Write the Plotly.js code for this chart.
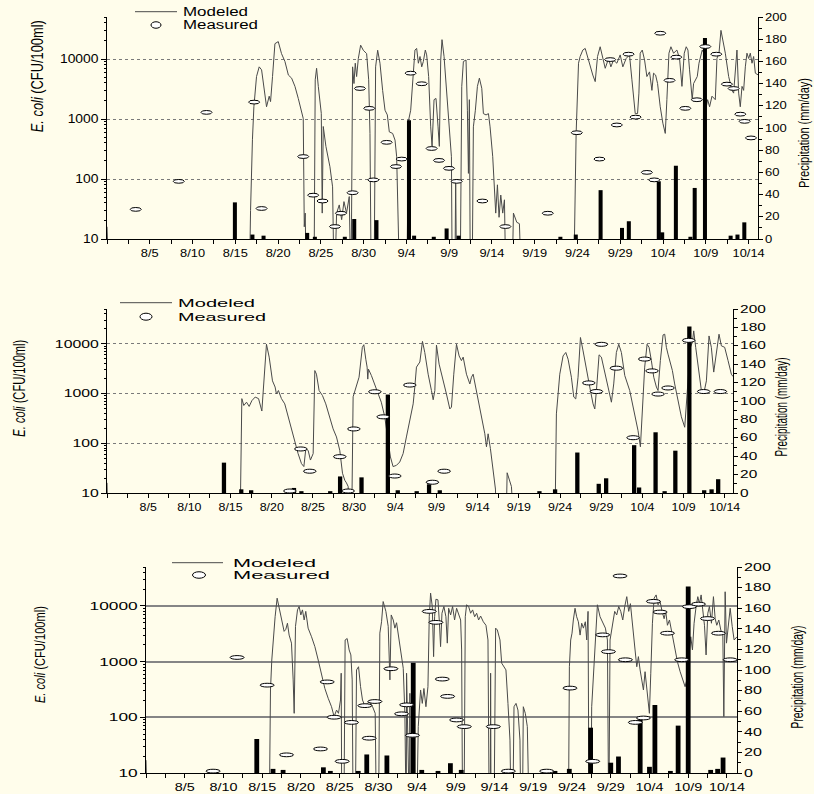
<!DOCTYPE html>
<html>
<head>
<meta charset="utf-8">
<script src="https://cdn.plot.ly/plotly-3.0.1.min.js"></script>
<style>
html,body{margin:0;padding:0;background:#fffdeb;}
#chart{width:814px;height:794px;}
</style>
</head>
<body>
<div id="chart"></div>
<script>
// ---------- DATA (x = day counted from Jul 31 = 0) ----------
const tickDays = [5,10,15,20,25,30,35,40,45,50,55,60,65,70,75];
const tickLabels = ['8/5','8/10','8/15','8/20','8/25','8/30','9/4','9/9','9/14','9/19','9/24','9/29','10/4','10/9','10/14'];

// precipitation (same daily amounts, positions)
const rainMm   = [33,4,3,5.5,2,2,18,17,107,3,2,9.5,3,2,4,44,10,16,52,6,66,2,46,181,3,4,15];
const rain1Day = [14.95,17.0,18.3,23.4,24.3,27.8,28.9,31.5,35.3,35.9,38.2,39.7,41.1,53.0,54.8,57.7,60.2,61.0,64.5,64.9,66.5,68.2,68.7,69.9,72.9,73.7,74.5];
const rain2Day = [14.2,16.3,17.5,22.7,23.6,27.1,28.3,30.9,34.1,35.3,37.6,39.1,40.4,52.5,54.4,57.1,59.7,60.6,64.0,64.6,66.6,67.7,69.0,70.7,72.5,73.4,74.2];
const rain3Day = [14.3,16.4,17.7,22.9,23.8,27.4,28.5,31.1,34.5,35.6,37.7,39.3,40.7,52.8,54.65,57.4,60.0,61.0,63.8,65.0,65.7,67.7,68.7,70.0,72.9,73.8,74.5];

const modeled1Day = [0,0.32,16.62,16.78,17.0,17.17,17.48,17.79,18.07,18.46,18.65,18.96,19.12,19.35,19.63,20.02,20.4,20.8,21.2,21.58,21.97,22.36,22.75,22.94,23.06,23.17,23.33,24.19,24.34,24.5,24.7,24.89,25.05,25.16,25.28,25.59,25.87,26.06,26.37,26.57,26.84,27.15,27.43,27.7,28.0,28.32,28.52,28.71,28.87,29.02,29.18,29.38,29.65,29.96,30.35,30.59,30.74,30.9,31.21,31.4,31.64,31.91,32.22,32.5,32.77,33.0,33.39,33.67,33.86,34.06,34.25,35.03,35.26,35.5,35.73,36.0,36.2,36.4,36.59,36.79,36.98,37.21,37.37,37.6,37.84,38.0,38.23,38.46,38.7,38.85,39.01,39.16,39.4,39.63,39.9,40.1,40.26,40.37,40.65,40.76,40.88,41.27,41.47,41.66,41.97,42.13,42.25,42.36,42.48,42.67,42.83,43.06,43.3,43.53,43.81,44.0,44.31,44.59,44.78,45.09,45.25,45.44,45.64,45.83,46.03,46.26,46.46,46.65,47.32,47.51,47.9,48.21,48.49,54.53,54.84,55.12,55.31,55.62,55.9,56.17,56.48,56.79,57.07,57.34,57.65,57.96,58.24,58.63,58.9,59.21,59.6,59.99,60.3,60.69,61.08,61.36,61.55,61.75,62.02,62.18,62.33,62.57,62.84,63.11,63.42,63.7,63.89,64.13,64.36,64.67,64.98,65.26,65.45,65.69,65.92,66.23,66.62,66.93,67.21,67.48,67.71,67.91,68.1,68.26,68.41,68.57,68.81,69.0,69.2,69.39,69.58,69.78,69.98,70.21,70.44,70.72,71.11,71.3,71.54,71.77,72.0,72.28,72.67,73.06,73.25,73.45,73.64,73.84,74.03,74.23,74.42,74.62,74.81,75.01,75.2,75.4,75.59,75.79,76.14];
const modeled1Cfu = [16,1,1,30,450,1600,5100,7400,6600,2300,1600,2400,1950,5100,18000,19500,12300,9100,5400,4800,3500,2200,1230,1020,16,27,1,1,4500,7000,3500,2100,1240,27,750,350,210,160,74,1,27,37,21,42,27,51,1,7400,3900,8500,5100,10200,17000,14000,12300,4500,575,1,1,7400,14000,8500,3000,1400,1170,610,575,445,235,45,1,1,960,1400,3900,14100,15000,8500,11000,7400,9100,14100,11700,5100,740,350,2100,2200,740,350,9600,21000,11000,3900,1400,445,235,1,1,97,1,1,3500,9100,9600,1400,124,2100,1,1,740,1400,3500,4800,3250,1230,1170,1230,740,235,74,27,80,23,54,27,45,1,1,27,19,18,1,1,575,8500,11000,14100,15000,11000,7400,5400,4200,11000,16000,10200,7000,10200,7400,9600,8500,11700,7400,10200,11700,4500,2100,1230,1230,2700,12500,14100,9600,5100,6100,3000,5800,5400,3900,1600,850,575,2100,12500,16000,12500,14100,10200,3500,12500,16000,14100,6600,3000,2100,3900,4500,5100,8500,11000,14100,12500,1400,2100,1600,2400,2100,10200,12500,30000,21000,12500,5100,3000,2700,6600,14100,2700,1600,3500,3000,7400,12500,10200,12500,8500,11000,5800,5400];
const measured1Day = [3.36,8.39,11.63,17.2,18.07,22.94,24.1,25.2,26.65,27.35,28.71,29.57,30.66,31.13,32.69,33.78,34.45,35.5,36.79,37.95,38.81,39.98,40.88,43.88,46.57,51.53,54.92,57.57,58.82,59.6,60.97,61.79,63.11,63.97,64.67,65.76,66.54,67.6,68.96,69.94,71.22,72.47,73.25,74.03,74.54,75.28];
const measured1Cfu = [29,85,1200,1780,30,220,50,40,15,25,55,3000,1400,90,380,150,200,5400,3600,300,190,140,85,40,15,25,550,200,9100,740,11200,1000,120,90,25000,4100,10000,1400,1950,15000,11200,3550,3000,1120,850,450];

const modeled2Day = [0,0.2,16.13,16.37,16.61,16.94,17.26,17.59,17.99,18.4,18.8,19.04,19.36,19.69,20.09,20.41,20.57,20.81,21.18,21.58,21.99,22.39,22.8,23.2,23.61,23.9,24.14,24.42,24.7,25.03,25.23,25.43,25.75,26.16,26.56,27.05,27.45,27.86,28.26,28.59,28.87,29.07,29.28,29.48,29.68,29.88,30.2,30.6,31.0,31.18,31.42,31.58,31.66,31.74,32.1,32.5,32.9,33.3,33.72,34.13,34.41,34.73,35.14,35.54,35.95,36.35,36.76,37.17,37.37,37.57,37.98,38.3,38.58,38.99,39.39,39.6,39.8,40.0,40.32,40.73,41.21,41.62,41.82,42.1,42.43,42.75,43.03,43.24,43.64,44.05,44.25,44.45,44.85,45.26,45.87,46.07,46.27,46.55,46.88,47.16,47.36,48.41,48.58,49.1,49.5,54.36,54.56,54.97,55.37,55.7,55.98,56.38,56.67,56.91,57.19,57.48,57.8,58.2,58.61,59.01,59.22,59.42,59.74,60.02,60.43,60.83,61.24,61.52,61.84,62.13,62.45,62.86,63.46,64.07,64.47,64.76,65.0,65.28,65.57,65.81,66.09,66.38,66.7,66.9,67.18,67.51,67.71,67.91,68.11,68.32,68.64,68.92,69.33,69.73,70.14,70.42,70.62,70.83,71.07,71.23,71.47,71.76,72.16,72.44,72.77,73.09,73.37,73.66,73.98,74.3,74.59,74.99,75.4,75.8,76.0];
const modeled2Cfu = [16,1,1,790,575,670,550,720,850,790,445,1800,9800,5400,1800,1350,980,1150,790,620,340,195,115,62,39,34,78,72,46,62,2900,2450,1150,910,620,340,195,134,72,25,18,16,13.5,1,1,860,1350,2130,8500,9600,4900,3400,1950,3100,2300,1560,1070,670,340,98,53,34,36,42,62,134,290,620,1350,3400,4300,11200,6700,2450,1150,750,1150,9400,3900,2130,980,490,535,2450,9800,5700,4600,5400,2450,1560,2130,2450,1150,490,155,85,155,78,29,12,1,1,25.5,13.5,1,1,390,2450,5700,6700,4900,2130,850,780,2130,13400,7200,2900,1350,620,490,1150,6000,5400,2450,1350,670,1560,6700,9800,6700,2300,1150,390,180,85,390,3400,9800,8500,4600,2130,1350,1150,4600,15100,15600,8500,6200,4600,2900,1560,720,340,210,850,3400,8500,10700,18200,8500,3400,1150,980,1800,14400,8500,2700,7200,15600,9100,8500,4600,2450,2200];
const measured2Day = [22.2,23.53,24.62,28.26,29.28,29.97,32.52,33.53,34.94,36.76,39.51,40.93,58.49,59.42,60.02,61.84,63.87,65.28,66.17,66.9,68.11,70.62,72.44,74.47];
const measured2Cfu = [10,70,25,49,10,177,990,310,20,1350,15,25,1490,1000,8900,2950,118,4500,2600,890,1180,10700,1000,1000];

const modeled3Day = [0,0.25,15.9,16.07,16.24,16.41,16.67,16.93,17.27,17.62,17.83,18.05,18.26,18.48,18.78,19.0,19.13,19.3,19.56,19.77,19.99,20.2,20.42,20.63,20.93,21.37,21.8,22.23,22.66,23.09,23.52,23.95,24.29,24.6,24.85,25.11,25.2,25.28,25.54,25.71,25.97,26.23,26.45,26.62,26.75,27.01,27.18,27.44,27.7,27.95,28.3,28.56,28.9,29.25,29.59,29.76,30.02,30.19,30.41,30.62,30.97,31.27,31.49,31.66,31.92,32.13,32.35,32.69,32.99,33.21,33.42,33.55,33.6,33.64,33.7,34.03,34.07,34.12,34.93,35.15,35.45,35.67,35.88,36.14,36.4,36.57,36.74,36.96,37.13,37.26,37.43,37.69,37.86,38.03,38.21,38.46,38.72,38.9,39.07,39.33,39.58,39.84,40.1,40.36,40.62,40.75,40.88,41.05,41.22,41.39,41.65,41.91,42.17,42.43,42.69,42.94,43.2,43.55,43.89,44.15,44.32,44.45,44.49,44.55,44.92,45.14,45.36,45.7,45.92,46.22,46.47,46.73,46.99,47.16,47.34,47.51,47.77,48.02,48.28,48.41,48.59,48.71,48.97,49.23,49.49,54.53,54.66,54.83,55.0,55.17,55.39,55.6,55.82,56.04,56.25,56.47,56.72,56.9,57.07,57.2,57.41,57.54,57.76,58.02,58.28,58.62,58.96,59.31,59.57,59.74,59.91,60.21,60.51,60.77,61.03,61.29,61.55,61.81,62.07,62.32,62.54,62.75,62.93,63.14,63.36,63.57,63.79,64.0,64.22,64.43,64.65,64.86,64.99,65.17,65.38,65.6,65.86,66.11,66.37,66.63,66.89,67.1,67.32,67.58,67.84,68.09,68.35,68.61,68.96,69.3,69.6,69.82,70.08,70.33,70.55,70.76,71.02,71.24,71.45,71.67,71.88,72.1,72.31,72.53,72.74,73.0,73.26,73.48,73.69,73.95,74.21,74.47,74.6,74.77,74.94,75.2,75.42,75.68,75.93,76.3];
const modeled3Cfu = [17,1,1,310,1070,2450,6400,13800,8500,5200,3500,3800,4900,3000,2150,470,118,4300,8500,9800,6900,8500,5600,8000,4000,2800,1860,1070,620,330,220,155,103,135,118,205,620,1,1,2450,2600,1620,1320,470,1,1,710,810,355,205,155,178,190,155,118,1,1,3250,5200,12000,8000,4300,470,6900,5600,4000,5000,2450,1400,760,118,1,1,620,1,1,270,1,1,68,310,178,330,155,355,6400,17000,9800,1230,6400,13200,12900,5600,1860,7400,9800,6400,2150,9100,6900,9800,5600,9100,7400,5600,1620,1,1,6400,10500,9800,7400,8500,6400,7400,5600,6600,5200,4500,2450,1,1,620,1,1,4000,3700,2450,940,810,710,178,39,1,1,155,178,135,39,1,1,155,118,68,1,1,810,2450,3250,5600,9100,6400,5200,3000,4900,4000,5200,2450,8000,1,1,155,620,3250,10500,6400,5200,4000,2450,1,2450,4500,8000,6900,9800,8000,5600,9800,14700,8000,11000,5600,2800,1620,810,1230,710,470,310,660,355,205,118,620,4900,13800,15800,10500,12000,8000,5900,8000,4500,5600,3500,2450,1400,990,660,470,355,470,1400,2800,1620,4900,9800,14700,11000,15800,8500,4500,1320,7400,9800,4900,14700,5900,4500,5600,3700,3000,103,18000,2150,5600,9100,4300,2450,2800];
const measured3Day = [8.66,11.76,15.64,18.14,22.53,23.39,24.29,25.33,26.53,28.26,28.82,29.55,31.62,33.0,33.65,34.4,36.57,37.43,38.25,38.94,40.1,41.09,44.84,46.78,51.73,54.74,57.67,58.96,59.7,61.2,61.89,63.18,64.22,65.51,66.37,67.32,69.17,70.16,71.33,72.49,73.91,75.42];
const measured3Cfu = [10,1100,350,19.6,25,400,93,15,75,150,39,178,690,107,155,44,7400,4700,450,220,83,63,63,10,10,310,15,2800,1400,32000,1000,75,90,11200,7200,3000,1000,9000,10000,5500,3000,1000];

const seriesNames = ['Modeled','Measured'];
const leftTitle = '<i>E. coli</i> (CFU/100ml)';
const rightTitle = 'Precipitation (mm/day)';

// ---------- STYLE / GEOMETRY ----------
const W = 814, H = 794;
const FONT = 'Liberation Sans, Arial, Helvetica, sans-serif';
const BG = '#fffdeb';
const LINE = '#4a4a4a';

const panels = [
  {l:107, r:758, t:17, b:239, xmax:76.1, barW:0.47, ell:[11,7.5], rain:rain1Day,
   grid:{color:'#7a7a7a', dash:'dot', width:1},
   days:modeled1Day, cfu:modeled1Cfu, mDay:measured1Day, mCfu:measured1Cfu,
   xt:{size:10.5, s:1.22}, yt:{size:12.6, s:1.1}, y2t:{size:10.5, s:1.24},
   tl:{x:37, y:76, size:16, len:112}, tr:{x:803, y:133, size:15, len:110},
   lg:{size:12, tx:181, rows:[11.7,25], widths:[65,75], line:[135,177], ell:[156,25,10,6.5]}},
  {l:107, r:733, t:309, b:493, xmax:76.0, barW:0.52, ell:[12.5,8], rain:rain2Day,
   grid:{color:'#7a7a7a', dash:'dot', width:1},
   days:modeled2Day, cfu:modeled2Cfu, mDay:measured2Day, mCfu:measured2Cfu,
   xt:{size:10.5, s:1.18}, yt:{size:11.2, s:1.41}, y2t:{size:10.5, s:1.47},
   tl:{x:19, y:388, size:16, len:97}, tr:{x:782, y:407, size:16, len:99},
   lg:{size:11.6, tx:176, rows:[302.7,316], widths:[77,88], line:[120,172], ell:[146,316.7,12,7]}},
  {l:146, r:737, t:567, b:773, xmax:76.3, barW:0.62, ell:[14,7.5], rain:rain3Day,
   grid:{color:'#858585', dash:'solid', width:1.7},
   days:modeled3Day, cfu:modeled3Cfu, mDay:measured3Day, mCfu:measured3Cfu,
   xt:{size:10.5, s:1.37}, yt:{size:11.6, s:1.49}, y2t:{size:10.7, s:1.5},
   tl:{x:39, y:655, size:15, len:97}, tr:{x:797, y:677, size:16, len:103},
   lg:{size:11.6, tx:231, rows:[562.7,574], widths:[83,97], line:[172,223], ell:[199,575,13,6.5]}}
];

function ids(i){
  return {x: i===0?'x':'x'+(i+1), yL: i===0?'y':'y'+(2*i+1), yR:'y'+(2*i+2),
          xk: i===0?'xaxis':'xaxis'+(i+1), yLk: i===0?'yaxis':'yaxis'+(2*i+1), yRk:'yaxis'+(2*i+2)};
}

const data = [];
const shapes = [];
const annotations = [];
const annFit = [];
const layout = {
  width:W, height:H, paper_bgcolor:BG, plot_bgcolor:BG, showlegend:false,
  margin:{l:0,r:0,t:0,b:0,pad:0,autoexpand:false},
  font:{family:FONT, color:'#000'}
};

panels.forEach((p,i)=>{
  const id = ids(i);
  const xd = [p.l/W, p.r/W];
  const yd = [1-p.b/H, 1-p.t/H];
  layout[id.xk] = {
    domain:xd, range:[0,p.xmax], anchor:id.yL,
    tickmode:'array', tickvals:tickDays, ticktext:tickLabels, tickangle:0,
    ticks:'outside', ticklen:4, tickcolor:'#000', tickwidth:1,
    minor:{dtick:2.5, tick0:0, ticks:'outside', ticklen:4, tickcolor:'#000', showgrid:false},
    showline:true, linecolor:'#000', linewidth:1, showgrid:false, zeroline:false,
    tickfont:{family:FONT, size:p.xt.size, color:'#000'}
  };
  layout[id.yLk] = {
    type:'log', domain:yd, range:[1,4.7], anchor:id.x,
    dtick:1, tick0:0, tickformat:'d',
    ticks:'outside', ticklen:5, tickcolor:'#000',
    minor:{dtick:'D1', ticks:'outside', ticklen:2.5, tickcolor:'#000', showgrid:false},
    showline:true, linecolor:'#000', linewidth:1, zeroline:false,
    showgrid:true, gridcolor:p.grid.color, griddash:p.grid.dash, gridwidth:p.grid.width,
    tickfont:{family:FONT, size:p.yt.size, color:'#000'}
  };
  layout[id.yRk] = {
    overlaying:id.yL, side:'right', anchor:id.x, range:[0,200],
    dtick:20, tick0:0, ticks:'outside', ticklen:4, tickcolor:'#000',
    minor:{dtick:10, ticks:'outside', ticklen:2.5, tickcolor:'#000', showgrid:false},
    showline:true, linecolor:'#000', linewidth:1, showgrid:false, zeroline:false,
    tickfont:{family:FONT, size:p.y2t.size, color:'#000'}
  };

  data.push({type:'scatter', mode:'lines', x:p.days, y:p.cfu, xaxis:id.x, yaxis:id.yL,
             line:{color:LINE, width:1}, hoverinfo:'skip', name:seriesNames[0]});
  data.push({type:'bar', x:p.rain, y:rainMm, xaxis:id.x, yaxis:id.yR, width:p.barW,
             marker:{color:'#000', line:{width:0}}, hoverinfo:'skip', name:'Precipitation'});

  p.mDay.forEach((d,k)=>{
    shapes.push({type:'circle', xref:id.x, yref:id.yL, xsizemode:'pixel', ysizemode:'pixel',
      xanchor:d, yanchor:p.mCfu[k], x0:-p.ell[0]/2, x1:p.ell[0]/2, y0:-p.ell[1]/2, y1:p.ell[1]/2,
      fillcolor:'#ffffff', line:{color:'#000', width:1}, layer:'above'});
  });

  // legend
  shapes.push({type:'line', xref:'paper', yref:'paper', x0:p.lg.line[0]/W, x1:p.lg.line[1]/W,
    y0:1-p.lg.rows[0]/H, y1:1-p.lg.rows[0]/H, line:{color:LINE, width:1}});
  const e = p.lg.ell;
  shapes.push({type:'circle', xref:'paper', yref:'paper', xsizemode:'pixel', ysizemode:'pixel',
    xanchor:e[0]/W, yanchor:1-e[1]/H, x0:-e[2]/2, x1:e[2]/2, y0:-e[3]/2, y1:e[3]/2,
    fillcolor:'#ffffff', line:{color:'#000', width:1}});
  seriesNames.forEach((nm,k)=>{
    annotations.push({xref:'paper', yref:'paper', x:p.lg.tx/W, y:1-p.lg.rows[k]/H,
      xanchor:'left', yanchor:'middle', align:'left', text:nm, showarrow:false,
      font:{family:FONT, size:p.lg.size, color:'#000'}});
    annFit.push(p.lg.widths[k]);
  });
  // axis titles
  annotations.push({xref:'paper', yref:'paper', x:p.tl.x/W, y:1-p.tl.y/H, xanchor:'center', yanchor:'middle',
    text:leftTitle, textangle:-90, showarrow:false, font:{family:FONT, size:p.tl.size, color:'#000'}});
  annFit.push(p.tl.len);
  annotations.push({xref:'paper', yref:'paper', x:p.tr.x/W, y:1-p.tr.y/H, xanchor:'center', yanchor:'middle',
    text:rightTitle, textangle:-90, showarrow:false, font:{family:FONT, size:p.tr.size, color:'#000'}});
  annFit.push(p.tr.len);
});

layout.shapes = shapes;
layout.annotations = annotations;

function fitTexts(gd){
  panels.forEach((p,i)=>{
    const id = ids(i);
    [[id.x,p.xt.s],[id.yL,p.yt.s],[id.yR,p.y2t.s]].forEach(([a,s])=>{
      gd.querySelectorAll('g.'+a+'tick text').forEach(t=>{
        const w = t.getComputedTextLength();
        if (w>0){ t.setAttribute('textLength',(w*s).toFixed(2)); t.setAttribute('lengthAdjust','spacingAndGlyphs'); }
      });
    });
  });
  gd.querySelectorAll('g.annotation').forEach(g=>{
    const k = Number(g.getAttribute('data-index'));
    const w = annFit[k];
    const t = g.querySelector('text.annotation-text');
    if (w && t){ t.setAttribute('textLength', w); t.setAttribute('lengthAdjust','spacingAndGlyphs'); }
  });
}

const gd = document.getElementById('chart');
Plotly.newPlot(gd, data, layout, {staticPlot:true, displayModeBar:false}).then(()=>fitTexts(gd));
</script>
</body>
</html>
